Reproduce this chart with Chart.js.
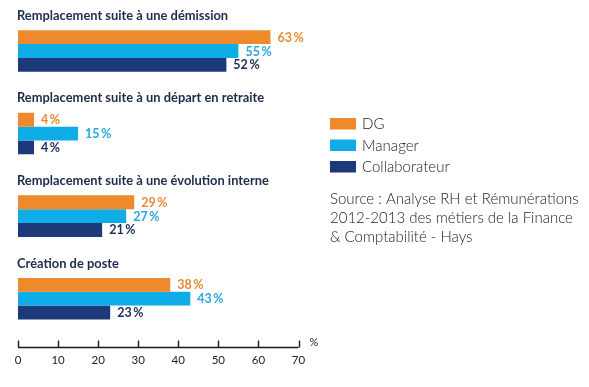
<!DOCTYPE html>
<html>
<head>
<meta charset="utf-8">
<script src="https://cdn.jsdelivr.net/npm/chart.js@4.4.0/dist/chart.umd.min.js"></script>
<style>
  html, body { margin: 0; padding: 0; background: #ffffff; }
  #wrap { width: 589px; height: 387px; }
</style>
</head>
<body>
<div id="wrap"><canvas id="c" width="589" height="387"></canvas></div>
<script>
const categories = [
  'Remplacement suite à une démission',
  'Remplacement suite à un départ en retraite',
  'Remplacement suite à une évolution interne',
  'Création de poste'
];
const seriesNames = ['DG', 'Manager', 'Collaborateur'];
const dgValues = [63, 4, 29, 38];
const managerValues = [55, 15, 27, 43];
const collabValues = [52, 4, 21, 23];
const xTickValues = [0, 10, 20, 30, 40, 50, 60, 70];
const axisUnit = '%';
const sourceLines = [
  'Source : Analyse RH et Rémunérations',
  '2012-2013 des métiers de la Finance',
  '& Comptabilité - Hays'
];

const barColors = ['#EF8A2C', '#0FADE8', '#1C3A79'];
const labelColors = ['#EA8A33', '#2AA7DE', '#1E2D5A'];
const FONT = 'Lato, "Open Sans", sans-serif';

const decorPlugin = {
  id: 'decor',
  afterDatasetsDraw(chart) {
    const ctx = chart.ctx;
    const xs = chart.scales.x;
    const area = chart.chartArea;
    ctx.save();
    // group titles
    const meta0 = chart.getDatasetMeta(0);
    ctx.fillStyle = '#1E2B4C';
    ctx.font = 'bold 12.9px ' + FONT;
    ctx.textBaseline = 'middle';
    ctx.textAlign = 'left';
    meta0.data.forEach((el, i) => {
      const top = el.y - el.height / 2;
      ctx.fillText(categories[i], 17, top - 14.5);
    });
    // value labels
    ctx.font = 'bold 12.5px ' + FONT;
    chart.data.datasets.forEach((ds, di) => {
      const meta = chart.getDatasetMeta(di);
      ctx.fillStyle = labelColors[di];
      meta.data.forEach((el, i) => {
        ctx.fillText(ds.data[i] + '\u2009%', el.x + 7, el.y + 0.5);
      });
    });
    // axis line and ticks (ticks point upward)
    const yLine = area.bottom + 7.5;
    const x0 = xs.getPixelForValue(xTickValues[0]);
    const x1 = xs.getPixelForValue(xTickValues[xTickValues.length - 1]);
    ctx.strokeStyle = '#1a1a1a';
    ctx.lineWidth = 1.4;
    ctx.beginPath();
    ctx.moveTo(x0, yLine);
    ctx.lineTo(x1, yLine);
    xTickValues.forEach(v => {
      const px = Math.round(xs.getPixelForValue(v)) + 0.5;
      ctx.moveTo(px, yLine);
      ctx.lineTo(px, yLine - 7);
    });
    ctx.stroke();
    ctx.fillStyle = '#222';
    ctx.font = '11px ' + FONT;
    ctx.fillText(axisUnit, x1 + 11, yLine - 5);
    // legend
    const lx = 330;
    const ly = [118, 139.5, 161];
    ctx.font = '300 15px ' + FONT;
    seriesNames.forEach((name, i) => {
      ctx.fillStyle = barColors[i];
      ctx.fillRect(lx, ly[i], 26, 11.5);
      ctx.fillStyle = '#222';
      ctx.fillText(name, lx + 32, ly[i] + 6.5);
    });
    // source
    ctx.fillStyle = '#222';
    sourceLines.forEach((line, i) => {
      ctx.fillText(line, lx, 199 + i * 19);
    });
    ctx.restore();
  }
};

new Chart(document.getElementById('c'), {
  type: 'bar',
  data: {
    labels: categories,
    datasets: [
      { label: seriesNames[0], data: dgValues, backgroundColor: barColors[0] },
      { label: seriesNames[1], data: managerValues, backgroundColor: barColors[1] },
      { label: seriesNames[2], data: collabValues, backgroundColor: barColors[2] }
    ]
  },
  options: {
    indexAxis: 'y',
    responsive: false,
    maintainAspectRatio: false,
    devicePixelRatio: 1,
    animation: false,
    datasets: {
      bar: { barPercentage: 1.0, categoryPercentage: 0.503, borderWidth: 0 }
    },
    layout: { padding: { left: 18, right: 290.5, top: 9.75, bottom: 6.25 } },
    plugins: { legend: { display: false }, tooltip: { enabled: false }, title: { display: false } },
    scales: {
      x: {
        type: 'linear',
        min: 0,
        max: 70,
        afterBuildTicks(scale) { scale.ticks = xTickValues.map(v => ({ value: v })); },
        ticks: { color: '#222', font: { family: FONT, size: 11.5 }, padding: 13.5, maxRotation: 0 },
        grid: { display: false, drawTicks: false },
        border: { display: false }
      },
      y: {
        type: 'category',
        display: false
      }
    }
  },
  plugins: [decorPlugin]
});
</script>
</body>
</html>
